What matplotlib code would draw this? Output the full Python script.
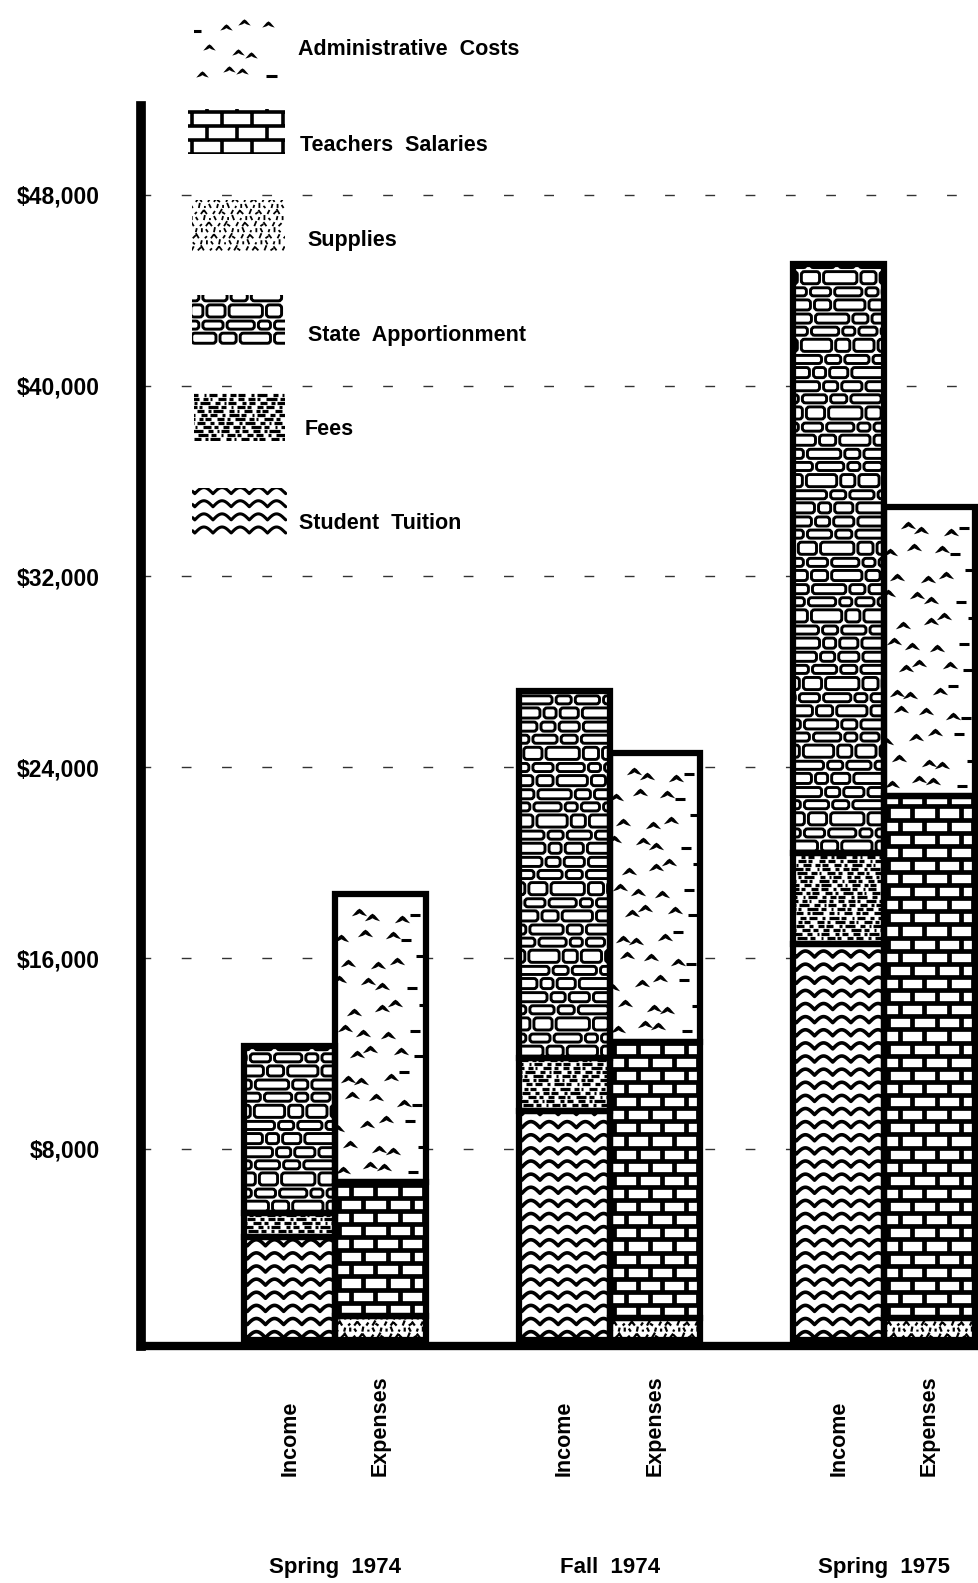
import numpy as np
import matplotlib
matplotlib.use('Agg')
import matplotlib.pyplot as plt
from matplotlib.patches import Rectangle, FancyBboxPatch
from matplotlib.transforms import blended_transform_factory

# ---- data ----
terms = ['Spring  1974', 'Fall  1974', 'Spring  1975']
bar_names = ['Income', 'Expenses']

# income, stacked bottom -> top
tuition = [4300, 9600, 16600]
fees = [1000, 2200, 3800]
state = [7000, 15400, 24700]
# expenses, stacked bottom -> top
supplies = [1000, 900, 900]
teachers = [5600, 11600, 21900]
admin = [12100, 12100, 12100]

yticks = [8000, 16000, 24000, 32000, 40000, 48000]
ytick_labels = [r'\$8,000', r'\$16,000', r'\$24,000', r'\$32,000', r'\$40,000', r'\$48,000']

legend_names = ['Administrative  Costs', 'Teachers  Salaries', 'Supplies',
                'State  Apportionment', 'Fees', 'Student  Tuition']

# ---- layout (pixel grid of the reference) ----
W, H = 970, 1568
SX = 1 / 272.0          # x data units per pixel
SY = 8000 / 189.0       # dollars per pixel
WID = 90 * SX
NARROW = ['Liberation Sans Narrow', 'Liberation Sans', 'DejaVu Sans']


def box(r):
    return r.get_x(), r.get_y(), r.get_width(), r.get_height()


def seg(ax, xs, ys, clip, lw, **kw):
    ln, = ax.plot(xs, ys, color='k', lw=lw, zorder=3, solid_capstyle='butt', **kw)
    ln.set_clip_path(clip)
    return ln


def waves(ax, r, sx, sy, lw=2.6):
    x0, y0, w, h = box(r)
    per, amp, gap = 18 * sx, 6 * sy, 13 * sy
    xs = np.linspace(x0, x0 + w, 600)
    for yy in np.arange(y0 + 2 * sy, y0 + h, gap):
        ys = yy + amp * np.abs(np.sin(np.pi * (xs - x0 - 3 * sx) / per))
        seg(ax, xs, ys, r, lw)


def bricks(ax, r, sx, sy, lw=3.4, rh=13, bw=24):
    x0, y0, w, h = box(r)
    xs, ys = [], []
    n = int(np.ceil(h / (rh * sy))) + 1
    for i in range(n):
        yy = y0 + i * rh * sy
        xs += [x0, x0 + w, np.nan]
        ys += [yy, yy, np.nan]
        off = (i % 2) * bw / 2
        for xv in np.arange(x0 + (off - bw + 4) * sx, x0 + w + bw * sx, bw * sx):
            xs += [xv, xv, np.nan]
            ys += [yy, yy + rh * sy, np.nan]
    seg(ax, xs, ys, r, lw)


STONE_W = [24, 16, 30, 14, 20, 27, 12, 18, 33, 15]
STONE_H = [10, 8, 12, 8, 9]


def stones(ax, r, sx, sy, lw=2.1):
    x0, y0, w, h = box(r)
    yy = y0 + 2 * sy
    i = 0
    while yy < y0 + h:
        sh = STONE_H[i % len(STONE_H)]
        xx = x0 - ((i * 7) % 13) * sx
        k = 0
        while xx < x0 + w:
            sw = STONE_W[(i * 3 + k) % len(STONE_W)]
            p = FancyBboxPatch((xx, yy), sw * sx, sh * sy,
                               boxstyle='round,pad=0,rounding_size=%g' % (3 * sx),
                               mutation_aspect=sy / sx, fc='white', ec='k',
                               lw=lw, zorder=3)
            ax.add_patch(p)
            p.set_clip_path(r)
            xx += (sw + 4) * sx
            k += 1
        yy += (sh + 4) * sy
        i += 1


DASH_L = [7, 3, 10, 5, 2, 8, 4, 6]
DASH_G = [4, 2, 6, 3, 5]


def fees_tex(ax, r, sx, sy, lw=2.3, pitch=4.0):
    x0, y0, w, h = box(r)
    xs, ys = [], []
    for i, yy in enumerate(np.arange(y0 + 2 * sy, y0 + h, pitch * sy)):
        xx = x0 - ((i * 5) % 9) * sx
        k = 0
        while xx < x0 + w:
            L = DASH_L[(i + k) % len(DASH_L)]
            xs += [xx, xx + L * sx, np.nan]
            ys += [yy, yy, np.nan]
            xx += (L + DASH_G[(i * 2 + k) % len(DASH_G)]) * sx
            k += 1
    seg(ax, xs, ys, r, lw)


SUP_DX = [2, -2, 3, 1, -3, 0]
SUP_DY = [4, 3, 5, 2, 4]


def supplies_tex(ax, r, sx, sy, lw=1.6):
    x0, y0, w, h = box(r)
    xs, ys = [], []
    for j, yy in enumerate(np.arange(y0 + 2 * sy, y0 + h, 6 * sy)):
        for i, xx in enumerate(np.arange(x0 + ((j * 3) % 5) * sx, x0 + w, 6 * sx)):
            dx = SUP_DX[(i * 2 + j) % len(SUP_DX)] * sx
            dy = SUP_DY[(i + j * 3) % len(SUP_DY)] * sy
            xs += [xx, xx + dx, np.nan]
            ys += [yy, yy + dy, np.nan]
    seg(ax, xs, ys, r, lw)


TENT = [(-1, -0.5), (-0.3, 0.3), (0, 0.5), (0.3, 0.3), (1, -0.5),
        (0.35, -0.3), (0, -0.1), (-0.35, -0.3)]
ADM_JX = [0, 5, -4, 3, -6, 2, -2]
ADM_JY = [0, 3, -4, 5, -2]


def admin_tex(ax, r, sx, sy, ms=11, lw=2.2):
    x0, y0, w, h = box(r)
    px, py, dxs, dys = [], [], [], []
    n = 0
    for j, yy in enumerate(np.arange(y0 + 12 * sy, y0 + h - 4 * sy, 23 * sy)):
        off = 11 if j % 2 else 0
        for i, xx in enumerate(np.arange(x0 + (8 + off) * sx, x0 + w - 4 * sx, 22 * sx)):
            xv = xx + ADM_JX[(i + j * 2) % len(ADM_JX)] * sx
            yv = yy + ADM_JY[(i * 3 + j) % len(ADM_JY)] * sy
            if n % 4 == 3:
                dxs += [xv - 5 * sx, xv + 5 * sx, np.nan]
                dys += [yv, yv, np.nan]
            else:
                px.append(xv)
                py.append(yv)
            n += 1
    ln, = ax.plot(px, py, ls='none', marker=TENT, ms=ms, color='k', mew=0, zorder=3)
    ln.set_clip_path(r)
    if dxs:
        seg(ax, dxs, dys, r, lw)


fig = plt.figure(figsize=(9.79, 15.83), dpi=100)
ax = fig.add_axes([140 / W, 1 - 1333 / H, 830 / W, (1333 - 105) / H])
ax.set_xlim((140 - 332) * SX, (970 - 332) * SX)
ax.set_ylim(-(1333 - 1327) * SY, (1327 - 105) * SY)

groups = np.arange(len(terms))
inc_x = groups - WID / 2
exp_x = groups + WID / 2

income_layers = [(tuition, waves), (fees, fees_tex), (state, stones)]
expense_layers = [(supplies, supplies_tex), (teachers, bricks), (admin, admin_tex)]

for xpos, layers in [(inc_x, income_layers), (exp_x, expense_layers)]:
    bottom = np.zeros(len(terms))
    for vals, tex in layers:
        vals = np.asarray(vals, dtype=float)
        bars = ax.bar(xpos, vals, WID, bottom=bottom, color='white',
                      edgecolor='none', zorder=2)
        for r in bars.patches:
            tex(ax, r, SX, SY)
        ax.bar(xpos, vals, WID, bottom=bottom, fill=False, edgecolor='k',
               lw=4.5, zorder=4, joinstyle='miter')
        bottom += vals

for v in yticks:
    ax.axhline(v, color='#333333', lw=1.0, ls=(0, (7, 22)), zorder=1)

for s in ['top', 'right']:
    ax.spines[s].set_visible(False)
ax.spines['left'].set_linewidth(7)
ax.spines['bottom'].set_linewidth(6)
for s in ['left', 'bottom']:
    ax.spines[s].set_capstyle('projecting')
ax.set_xticks([])
ax.set_yticks(yticks, labels=ytick_labels)
ax.tick_params(axis='y', length=0, pad=30)
for t in ax.get_yticklabels():
    t.set_fontfamily(['Liberation Sans', 'DejaVu Sans'])
    t.set_fontsize(16.5)
    t.set_fontweight('bold')

# overlay in reference pixel coordinates (y up) for legend and labels
lax = fig.add_axes([0, 0, 1, 1])
lax.set_xlim(0, W)
lax.set_ylim(0, H)
lax.axis('off')

swatches = [(192, 12, 280, 85, admin_tex), (186, 108, 282, 153, bricks),
            (190, 198, 282, 250, supplies_tex), (190, 292, 282, 342, stones),
            (192, 387, 282, 437, fees_tex), (190, 483, 284, 530, waves)]
label_pos = [(295, 49), (297, 144), (305, 238), (305, 332), (302, 425), (296, 519)]

for (x0, y0, x1, y1, tex), name, (tx, ty) in zip(swatches, legend_names, label_pos):
    r = Rectangle((x0, H - y1), x1 - x0, y1 - y0, fc='none', ec='none')
    lax.add_patch(r)
    if tex is bricks:
        tex(lax, r, 1, 1, lw=2.6, rh=14, bw=30)
    elif tex is waves:
        tex(lax, r, 1, 1, lw=2.2)
    elif tex is admin_tex:
        tex(lax, r, 1, 1, ms=9)
    elif tex is supplies_tex:
        tex(lax, r, 1, 1, lw=1.3)
    else:
        tex(lax, r, 1, 1)
    lax.text(tx, H - ty, name, ha='left', va='center', fontsize=15.5,
             fontweight='bold', family=NARROW)

trans = blended_transform_factory(ax.transData, lax.transData)
for g in groups:
    for xc, name in zip([inc_x[g], exp_x[g]], bar_names):
        ax.text(xc, H - 1462, name, rotation=90, ha='center', va='bottom',
                transform=trans, fontsize=15.5, fontweight='bold', family=NARROW)
    ax.text(g, H - 1553, terms[g], ha='center', va='center', transform=trans,
            fontsize=16, fontweight='bold', family=NARROW)

fig.savefig('out.png', dpi=100)
